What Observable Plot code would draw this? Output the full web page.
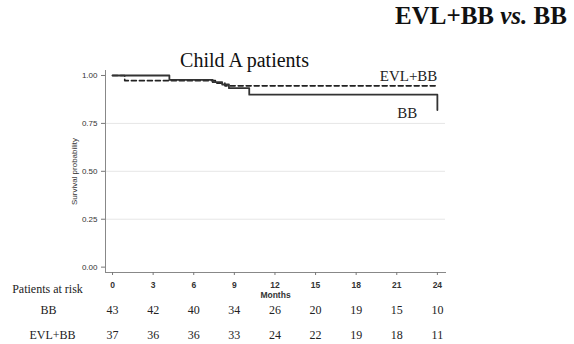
<!DOCTYPE html>
<html>
<head>
<meta charset="utf-8">
<script src="https://cdn.jsdelivr.net/npm/d3@7"></script>
<script src="https://cdn.jsdelivr.net/npm/@observablehq/plot@0.6"></script>
<style>
  html, body { margin: 0; padding: 0; background: #fff; }
  #wrap { position: relative; width: 574px; height: 344px; }
  #title { position: absolute; left: 395px; top: 2px; font-family: "Liberation Serif", "Times New Roman", serif;
           font-weight: bold; font-size: 25px; color: #111; white-space: nowrap; }
</style>
</head>
<body>
<div id="wrap">
  <div id="title">EVL+BB <i>vs.</i> BB</div>
</div>
<script>
// Data
const monthTicks = [0, 3, 6, 9, 12, 15, 18, 21, 24];
const riskBB  = [43, 42, 40, 34, 26, 20, 19, 15, 10];
const riskEVL = [37, 36, 36, 33, 24, 22, 19, 18, 11];

const bbTimes = [0, 4.2, 7.4, 8.1, 8.6, 10.1, 24, 24];
const bbSurv  = [1.0, 0.977, 0.965, 0.953, 0.934, 0.90, 0.90, 0.82];

const evlTimes = [0, 0.9, 7.6, 8.3, 24];
const evlSurv  = [1.0, 0.973, 0.96, 0.946, 0.946];

const yTicks = [0, 0.25, 0.5, 0.75, 1];
const gridLines = [0.25, 0.5, 0.75];

const bb = bbTimes.map((t, i) => ({t, s: bbSurv[i]}));
const evl = evlTimes.map((t, i) => ({t, s: evlSurv[i]}));
const riskRows = monthTicks.map((m, i) => ({m, bb: riskBB[i], evl: riskEVL[i]}));

const serif = "'Liberation Serif', 'Times New Roman', serif";
const sans = "'Liberation Sans', Arial, sans-serif";

const chart = Plot.plot({
  width: 574,
  height: 344,
  marginLeft: 105,
  marginRight: 129,
  marginTop: 70,
  marginBottom: 72,
  style: {background: "transparent", fontFamily: sans, overflow: "visible"},
  x: {domain: [-0.52, 24.6]},
  y: {domain: [-0.028, 1.026]},
  marks: [
    Plot.ruleY(gridLines, {stroke: "#e6e6e6", strokeWidth: 1}),
    Plot.frame({anchor: "bottom", stroke: "#888", strokeWidth: 1}),
    Plot.frame({anchor: "left", stroke: "#888", strokeWidth: 1}),
    Plot.axisY(yTicks, {
      anchor: "left", tickFormat: d3.format(".2f"), tickSize: 4, tickPadding: 4,
      fontSize: 8, fill: "#333", stroke: "#777",
      label: "Survival probability", labelAnchor: "center", labelOffset: 34, labelArrow: "none"
    }),
    Plot.axisX(monthTicks, {
      anchor: "bottom", tickSize: 3, tickPadding: 6, fontSize: 8.5, fontWeight: "bold", fill: "#333", stroke: "#777",
      label: "Months", labelAnchor: "center", labelOffset: 25, labelArrow: "none"
    }),
    Plot.line(evl, {x: "t", y: "s", curve: "step-after", stroke: "#222", strokeWidth: 1.6, strokeDasharray: "5,3"}),
    Plot.line(bb, {x: "t", y: "s", curve: "step-after", stroke: "#333", strokeWidth: 1.8}),
    Plot.text(["EVL+BB"], {x: evlTimes[evlTimes.length - 1], y: evlSurv[evlSurv.length - 1], text: d => d,
      textAnchor: "end", dy: -10, fontFamily: serif, fontSize: 15, fill: "#222"}),
    Plot.text(["BB"], {x: bbTimes[bbTimes.length - 1], y: bbSurv[bbSurv.length - 1], text: d => d,
      textAnchor: "end", dx: -20, dy: 3, fontFamily: serif, fontSize: 15, fill: "#222"}),
    Plot.text(["Child A patients"], {frameAnchor: "top", text: d => d, dx: -31, dy: -18,
      fontFamily: serif, fontSize: 20, fill: "#111"}),
    Plot.text(["Patients at risk"], {frameAnchor: "bottom-left", text: d => d, dx: -58, dy: 20,
      textAnchor: "middle", fontFamily: serif, fontSize: 12, fill: "#222"}),
    Plot.text(["BB"], {frameAnchor: "bottom-left", text: d => d, dx: -57, dy: 41,
      textAnchor: "middle", fontFamily: serif, fontSize: 12, fill: "#222"}),
    Plot.text(["EVL+BB"], {frameAnchor: "bottom-left", text: d => d, dx: -53, dy: 66,
      textAnchor: "middle", fontFamily: serif, fontSize: 12, fill: "#222"}),
    Plot.text(riskRows, {x: "m", frameAnchor: "bottom", text: "bb", dy: 41, fontFamily: serif, fontSize: 12, fill: "#222"}),
    Plot.text(riskRows, {x: "m", frameAnchor: "bottom", text: "evl", dy: 66, fontFamily: serif, fontSize: 12, fill: "#222"})
  ]
});
document.getElementById("wrap").prepend(chart);
</script>
</body>
</html>
